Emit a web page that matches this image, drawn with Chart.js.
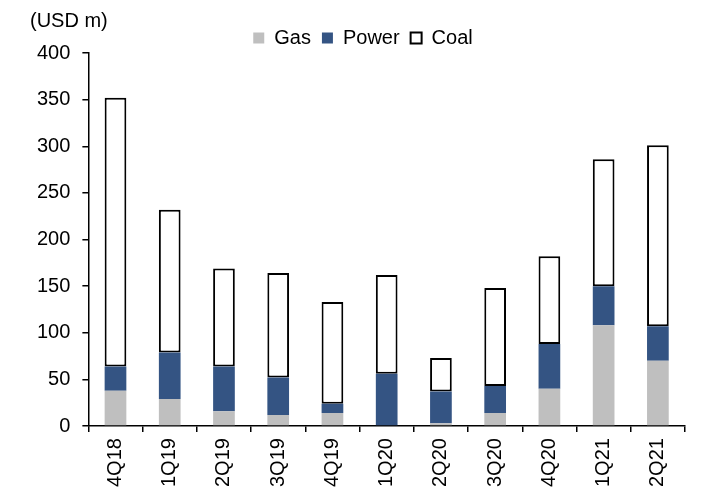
<!DOCTYPE html>
<html>
<head>
<meta charset="utf-8">
<script src="https://cdn.jsdelivr.net/npm/chart.js@4.4.0/dist/chart.umd.min.js"></script>
<style>
  html, body { margin: 0; padding: 0; background: #ffffff; }
  #wrap { width: 710px; height: 493px; position: relative; }
</style>
</head>
<body>
<div id="wrap"><canvas id="c"></canvas></div>
<script>
const categories = ['4Q18','1Q19','2Q19','3Q19','4Q19','1Q20','2Q20','3Q20','4Q20','1Q21','2Q21'];
const gasValues   = [38, 29, 16, 12, 14, 0, 3, 14, 40, 108, 70];
const powerValues = [26, 50, 48, 40, 10, 56, 34, 29, 48, 42, 37];
const coalValues  = [288, 153, 105, 112, 109, 106, 36, 105, 94, 136, 194];
const yTicks = [0, 50, 100, 150, 200, 250, 300, 350, 400];
const unitLabel = '(USD m)';

const FONT = 'Liberation Sans, Arial, sans-serif';

const unitPlugin = {
  id: 'unitLabel',
  afterLayout(chart) {
    const lg = chart.legend;
    if (lg) { lg.top += 5; lg.bottom += 5; lg.left += 8; lg.right += 8; }
  },
  afterDraw(chart) {
    const ctx = chart.ctx;
    ctx.save();
    ctx.font = '20px ' + FONT;
    ctx.fillStyle = '#000';
    ctx.textBaseline = 'middle';
    ctx.textAlign = 'left';
    ctx.fillText(unitLabel, 30, 21);
    ctx.restore();
  }
};

new Chart(document.getElementById('c'), {
  type: 'bar',
  data: {
    labels: categories,
    datasets: [
      { label: 'Gas', data: gasValues, backgroundColor: '#BFBFBF', borderWidth: 0,
        categoryPercentage: 1, barPercentage: 0.4 },
      { label: 'Power', data: powerValues, backgroundColor: '#345483', borderWidth: 0,
        categoryPercentage: 1, barPercentage: 0.4 },
      { label: 'Coal', data: coalValues, backgroundColor: '#FFFFFF', borderColor: '#000000',
        borderWidth: 2, borderSkipped: false, categoryPercentage: 1, barPercentage: 0.4 }
    ]
  },
  options: {
    responsive: true,
    maintainAspectRatio: false,
    animation: false,
    layout: { padding: { top: 12, left: 25, right: 25, bottom: 0 } },
    plugins: {
      legend: {
        position: 'top',
        align: 'center',
        labels: {
          boxWidth: 11, boxHeight: 11, padding: 11,
          color: '#000', font: { family: FONT, size: 20 }
        }
      },
      tooltip: { enabled: false }
    },
    scales: {
      x: {
        stacked: true,
        grid: { display: true, offset: true, drawOnChartArea: false, drawTicks: true,
                tickLength: 6, color: '#000', lineWidth: 1.5 },
        border: { display: true, color: '#000', width: 1.5 },
        ticks: { color: '#000', font: { family: FONT, size: 20 }, minRotation: 90, maxRotation: 90, padding: 6 }
      },
      y: {
        stacked: true,
        min: 0, max: 400,
        afterBuildTicks(scale) { scale.ticks = yTicks.map(v => ({ value: v })); },
        grid: { display: true, drawOnChartArea: false, drawTicks: true,
                tickLength: 6, color: '#000', lineWidth: 1.5 },
        border: { display: true, color: '#000', width: 1.5 },
        ticks: { color: '#000', font: { family: FONT, size: 20 }, padding: 12 }
      }
    }
  },
  plugins: [unitPlugin]
});
</script>
</body>
</html>
